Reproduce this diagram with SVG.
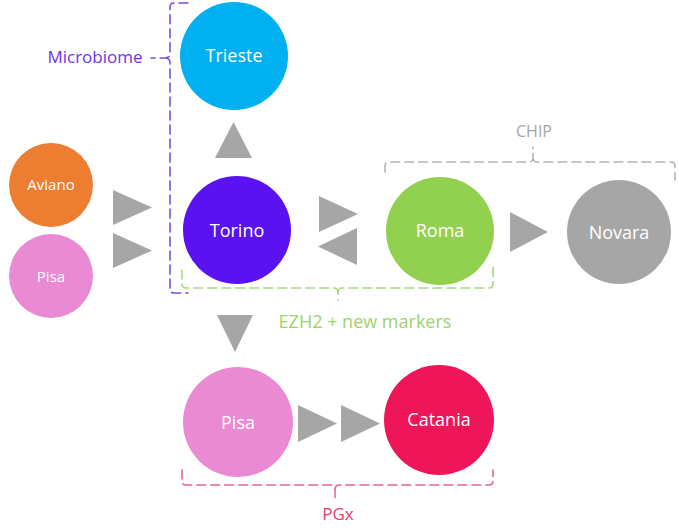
<svg xmlns="http://www.w3.org/2000/svg" width="679" height="532" viewBox="0 0 679 532">
  <style>
    .lbl { font-family: "Open Sans", "Liberation Sans", sans-serif; fill: #ffffff; text-anchor: middle; }
    .big { font-size: 18px; }
    .small { font-size: 15px; }
    .arrow { fill: #a6a6a6; }
    .brace { fill: none; stroke-width: 1.6; stroke-dasharray: 9 5; stroke-linecap: round; }
    .note { font-family: "Open Sans", "Liberation Sans", sans-serif; text-anchor: middle; }
  </style>
  <rect width="679" height="532" fill="#ffffff"/>

  <!-- connectors: grey triangle arrows -->
  <g id="connectors">
    <polygon class="arrow" points="215,158 252,158 233.5,122"/>
    <polygon class="arrow" points="113,190 113,225 152,207.5"/>
    <polygon class="arrow" points="113,233 113,268 152,250.5"/>
    <polygon class="arrow" points="319,196 319,232 358,214"/>
    <polygon class="arrow" points="357,228 357,265 318,246.5"/>
    <polygon class="arrow" points="510,212 510,252 548,232"/>
    <polygon class="arrow" points="217,315 253,315 235,352"/>
    <polygon class="arrow" points="298,405 298,442 337,423.5"/>
    <polygon class="arrow" points="341,405 341,442 380,423.5"/>
  </g>

  <!-- group braces -->
  <g id="braces">
    <path class="brace" stroke="#7b4fdc" d="M188,3 L174,3 Q170,3 170,7 L170,53 Q170,58 165,58 L151,58 M165,58 Q170,58 170,63 L170,289 Q170,293 174,293 L188,293"/>
    <path class="brace" stroke="#a9d77f" d="M182,270 L182,284 Q182,288 186,288 L334,288 Q338,288 338,293 L338,300 M338,293 Q338,288 342,288 L489,288 Q493,288 493,284 L493,267"/>
    <path class="brace" stroke="#b5b5b5" d="M385,172 L385,166 Q385,162 389,162 L529,162 Q533,162 533,157 L533,147 M533,157 Q533,162 537,162 L671,162 Q675,162 675,166 L675,180"/>
    <path class="brace" stroke="#e4668e" d="M182,470 L182,481 Q182,485 186,485 L331,485 Q335,485 335,490 L335,500 M335,490 Q335,485 339,485 L489,485 Q493,485 493,481 L493,470"/>
  </g>

  <!-- brace labels -->
  <g id="labels">
    <text class="note" x="95" y="63" fill="#6e35e6" style="font-size:17px">Microbiome</text>
    <text class="note" x="365" y="328" fill="#9ed36a" style="font-size:18px">EZH2 + new markers</text>
    <text class="note" x="534" y="137" fill="#a6a6a6" style="font-size:16px">CHIP</text>
    <text class="note" x="338" y="520" fill="#e8406a" style="font-size:17px">PGx</text>
  </g>

  <!-- nodes -->
  <g id="trieste">
    <circle cx="234" cy="56" r="54" fill="#00b0f0"/>
    <text class="lbl big" x="234" y="62">Trieste</text>
  </g>
  <g id="torino">
    <circle cx="237" cy="230" r="54" fill="#5b12f0"/>
    <text class="lbl big" x="237" y="237">Torino</text>
  </g>
  <g id="aviano">
    <circle cx="51" cy="185" r="42" fill="#ed7d31"/>
    <text class="lbl small" x="51" y="190">Aviano</text>
  </g>
  <g id="pisa-left">
    <circle cx="51" cy="276" r="42" fill="#e98ad3"/>
    <text class="lbl small" x="51" y="282">Pisa</text>
  </g>
  <g id="roma">
    <circle cx="440" cy="231" r="54" fill="#92d050"/>
    <text class="lbl big" x="440" y="237">Roma</text>
  </g>
  <g id="novara">
    <circle cx="619" cy="232" r="52" fill="#a6a6a6"/>
    <text class="lbl big" x="619" y="239">Novara</text>
  </g>
  <g id="pisa-bottom">
    <circle cx="238" cy="422" r="55" fill="#e98ad3"/>
    <text class="lbl big" x="238" y="429">Pisa</text>
  </g>
  <g id="catania">
    <circle cx="439" cy="420" r="55" fill="#ee1558"/>
    <text class="lbl big" x="439" y="426">Catania</text>
  </g>
</svg>
